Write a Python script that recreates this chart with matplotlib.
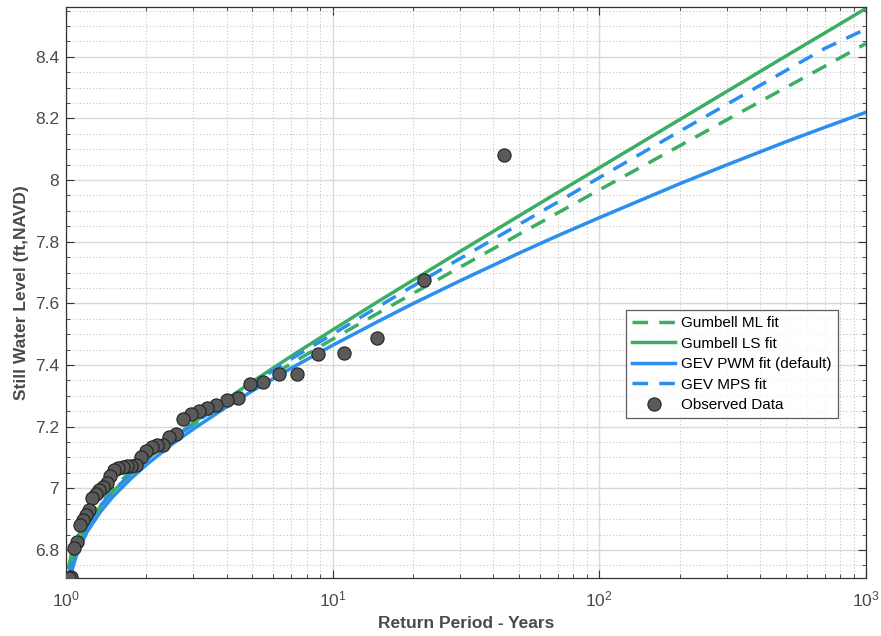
import matplotlib.pyplot as plt
from matplotlib.ticker import MultipleLocator, LogLocator, NullFormatter
import numpy as np

plt.rcParams['font.family'] = ['Liberation Sans', 'DejaVu Sans']
plt.rcParams['mathtext.fontset'] = 'custom'
plt.rcParams['mathtext.rm'] = 'Liberation Sans'

# Observed annual maxima, ranked (return period = 44 / rank)
obs_rank = list(range(1, 44))
obs_level = [8.083, 7.676, 7.487, 7.438, 7.435, 7.371, 7.370, 7.346, 7.337, 7.292,
             7.286, 7.270, 7.259, 7.250, 7.241, 7.224, 7.175, 7.167, 7.141, 7.140,
             7.134, 7.120, 7.102, 7.077, 7.073, 7.071, 7.068, 7.065, 7.058, 7.040,
             7.016, 7.005, 6.994, 6.983, 6.967, 6.930, 6.913, 6.897, 6.882, 6.826,
             6.806, 6.712, 6.709]

# Fitted curves, sampled at these return periods
fit_T = [1.02, 1.05, 1.1, 1.2, 1.35, 1.5, 1.75, 2, 2.5, 3, 4, 5, 7, 10, 15, 20,
         30, 50, 70, 100, 200, 300, 500, 700, 1000]
gumbel_ml = [6.738, 6.791, 6.840, 6.900, 6.958, 7.001, 7.054, 7.096, 7.158, 7.206,
             7.277, 7.329, 7.405, 7.484, 7.571, 7.632, 7.717, 7.824, 7.894, 7.968,
             8.111, 8.195, 8.300, 8.369, 8.443]
gumbel_ls = [6.703, 6.761, 6.814, 6.879, 6.943, 6.989, 7.047, 7.092, 7.160, 7.212,
             7.289, 7.346, 7.429, 7.514, 7.609, 7.675, 7.768, 7.884, 7.960, 8.040,
             8.196, 8.287, 8.402, 8.477, 8.557]
gev_pwm = [6.680, 6.730, 6.789, 6.859, 6.925, 6.973, 7.031, 7.076, 7.143, 7.192,
           7.264, 7.316, 7.390, 7.464, 7.544, 7.599, 7.673, 7.763, 7.820, 7.878,
           7.988, 8.049, 8.124, 8.171, 8.220]
gev_mps = [6.710, 6.765, 6.818, 6.882, 6.945, 6.990, 7.047, 7.091, 7.158, 7.208,
           7.283, 7.339, 7.420, 7.500, 7.592, 7.656, 7.745, 7.856, 7.929, 8.008,
           8.158, 8.245, 8.355, 8.427, 8.490]

obs_T = [44.0 / r for r in obs_rank]

green = '#3cae63'
blue = '#2b8ff0'
dash = (4.5, 3.2)

fig = plt.figure(figsize=(8.81, 6.36), dpi=100)
ax = fig.add_axes([0.0749, 0.0912, 0.908, 0.898])

ax.plot(fit_T, gumbel_ml, color=green, lw=2.5, dashes=dash, label='Gumbell ML fit')
ax.plot(fit_T, gumbel_ls, color=green, lw=2.5, label='Gumbell LS fit')
ax.plot(fit_T, gev_pwm, color=blue, lw=2.5, label='GEV PWM fit (default)')
ax.plot(fit_T, gev_mps, color=blue, lw=2.5, dashes=dash, label='GEV MPS fit')
ax.plot(obs_T, obs_level, 'o', color='#5a5a5a', mec='#222222', mew=0.8,
        ms=9.5, label='Observed Data', zorder=5)

ax.set_xscale('log')
ax.set_xlim(1, 1000)
ax.set_ylim(6.709, 8.562)
ax.yaxis.set_minor_locator(MultipleLocator(0.05))
ax.xaxis.set_minor_locator(LogLocator(base=10, subs=np.arange(2, 10)))
ax.xaxis.set_minor_formatter(NullFormatter())
yt = [6.8, 7.0, 7.2, 7.4, 7.6, 7.8, 8.0, 8.2, 8.4]
ax.set_yticks(yt)
ax.set_yticklabels(['6.8', '7', '7.2', '7.4', '7.6', '7.8', '8', '8.2', '8.4'])

ax.grid(which='major', color='#d9d9d9', lw=1.0, ls='-')
ax.grid(which='minor', color='#c4c4c4', lw=0.8, ls=(0, (1, 2)))
ax.set_axisbelow(True)

ax.tick_params(which='both', direction='in', top=True, right=True,
               colors='#333333', labelcolor='#4a4a4a', labelsize=12.5)
ax.tick_params(which='major', length=6)
ax.tick_params(which='minor', length=3)
ax.tick_params(axis='x', pad=8)
ax.tick_params(axis='y', pad=5)
for s in ax.spines.values():
    s.set_color('#333333')
    s.set_linewidth(0.9)

ax.set_xlabel('Return Period - Years', fontsize=12.5, fontweight='bold',
              color='#4a4a4a', labelpad=5)
ax.set_ylabel('Still Water Level (ft,NAVD)', fontsize=12.5, fontweight='bold',
              color='#4a4a4a', labelpad=4)

leg = ax.legend(loc='lower right', bbox_to_anchor=(0.965, 0.28), fontsize=11,
                frameon=True, fancybox=False, handlelength=2.8, borderpad=0.4,
                labelspacing=0.42, handletextpad=0.4, borderaxespad=0)
leg.get_frame().set_edgecolor('#333333')
leg.get_frame().set_linewidth(0.9)

fig.savefig('out.png', dpi=100)
